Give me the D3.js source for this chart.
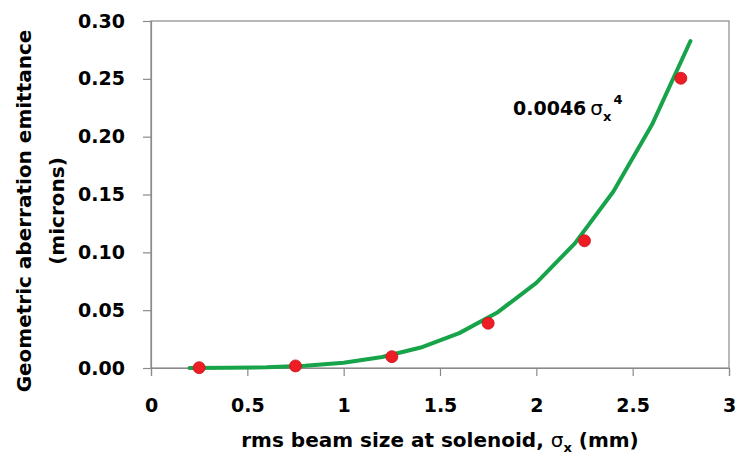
<!DOCTYPE html>
<html>
<head>
<meta charset="utf-8">
<script src="https://cdnjs.cloudflare.com/ajax/libs/d3/7.8.5/d3.min.js"></script>
<style>
  html, body { margin: 0; padding: 0; background: #fff; }
  svg text { font-family: "DejaVu Sans", sans-serif; font-weight: 700; fill: #000; }
</style>
</head>
<body>
<svg id="chart" width="739" height="457"></svg>
<script>
// Measured geometric aberration emittance vs rms beam size
const beamSize = [0.25, 0.75, 1.25, 1.75, 2.25, 2.75];
const emittance = [0.0003, 0.0018, 0.0098, 0.0387, 0.110, 0.2505];

// Fit curve 0.0046 * sigma^4, tabulated
const fitSize = [0.2, 0.4, 0.6, 0.8, 1.0, 1.2, 1.4, 1.6, 1.8, 2.0, 2.2, 2.4, 2.6, 2.8];
const fitEmittance = [0.0000074, 0.000118, 0.000596, 0.001884, 0.0046, 0.009539, 0.017671,
                      0.030147, 0.048289, 0.0736, 0.107758, 0.152617, 0.210209, 0.282742];

const xTicks = [0, 0.5, 1, 1.5, 2, 2.5, 3];
const xTickLabels = ["0", "0.5", "1", "1.5", "2", "2.5", "3"];
const yTicks = [0, 0.05, 0.10, 0.15, 0.20, 0.25, 0.30];
const yTickLabels = ["0.00", "0.05", "0.10", "0.15", "0.20", "0.25", "0.30"];

(function () {
const svg = d3.select("#chart");
const plotLeft = 151, plotRight = 729, plotTop = 21, plotBottom = 368;

const x = d3.scaleLinear().domain([0, 3]).range([plotLeft, plotRight]);
const y = d3.scaleLinear().domain([0, 0.30]).range([plotBottom, plotTop]);

const axisColor = "#8a8a8a";
const fontSize = "19px";
const titleSize = "20px";

// plot frame
svg.append("rect")
  .attr("x", plotLeft).attr("y", plotTop)
  .attr("width", plotRight - plotLeft).attr("height", plotBottom - plotTop)
  .attr("fill", "none").attr("stroke", axisColor).attr("stroke-width", 1.2);

// x axis
const xAxis = svg.append("g")
  .attr("transform", `translate(0,${plotBottom})`)
  .call(d3.axisBottom(x).tickValues(xTicks)
    .tickFormat((d, i) => xTickLabels[i]).tickSize(8).tickPadding(23));
xAxis.select(".domain").attr("stroke", axisColor).attr("stroke-width", 1.2);
xAxis.selectAll(".tick line").attr("stroke", axisColor).attr("stroke-width", 1.2);
xAxis.selectAll(".tick text").style("font-size", fontSize);

// y axis
const yAxis = svg.append("g")
  .attr("transform", `translate(${plotLeft},0)`)
  .call(d3.axisLeft(y).tickValues(yTicks)
    .tickFormat((d, i) => yTickLabels[i]).tickSize(8).tickPadding(18));
yAxis.select(".domain").attr("stroke", axisColor).attr("stroke-width", 1.2);
yAxis.selectAll(".tick line").attr("stroke", axisColor).attr("stroke-width", 1.2);
yAxis.selectAll(".tick text").style("font-size", fontSize);

// fit line
const line = d3.line().x((d, i) => x(fitSize[i])).y(d => y(d));
svg.append("path")
  .datum(fitEmittance)
  .attr("d", line)
  .attr("fill", "none")
  .attr("stroke", "#17a34a")
  .attr("stroke-width", 4)
  .attr("stroke-linejoin", "round")
  .attr("stroke-linecap", "round");

// measured points
svg.append("g").selectAll("circle")
  .data(emittance)
  .join("circle")
  .attr("cx", (d, i) => x(beamSize[i]))
  .attr("cy", d => y(d))
  .attr("r", 6)
  .attr("fill", "#ee1c25")
  .attr("stroke", "#c8141c")
  .attr("stroke-width", 0.8);

// fit annotation: 0.0046 sigma_x^4
const ann = svg.append("text")
  .attr("x", 513).attr("y", 115)
  .style("font-size", fontSize);
ann.append("tspan").text("0.0046");
ann.append("tspan").text("σ").attr("dx", 4).style("font-weight", "400").style("font-size", "20px");
ann.append("tspan").text("x").attr("dy", 6).style("font-size", "13px");
ann.append("tspan").text("4").attr("dy", -17).attr("dx", 2).style("font-size", "13px");

// x axis title
const xt = svg.append("text")
  .attr("x", 440).attr("y", 447)
  .attr("text-anchor", "middle")
  .style("font-size", titleSize);
xt.append("tspan").text("rms beam size at solenoid, ");
xt.append("tspan").text("σ").style("font-weight", "400");
xt.append("tspan").text("x").attr("dy", 5).style("font-size", "13px");
xt.append("tspan").text(" (mm)").attr("dy", -5);

// y axis title, two lines
const yt = svg.append("text")
  .attr("transform", "translate(0,211) rotate(-90)")
  .attr("text-anchor", "middle")
  .style("font-size", titleSize);
yt.append("tspan").attr("x", 0).attr("y", 31).text("Geometric aberration emittance");
yt.append("tspan").attr("x", 0).attr("y", 64).text("(microns)");
})();
</script>
</body>
</html>
